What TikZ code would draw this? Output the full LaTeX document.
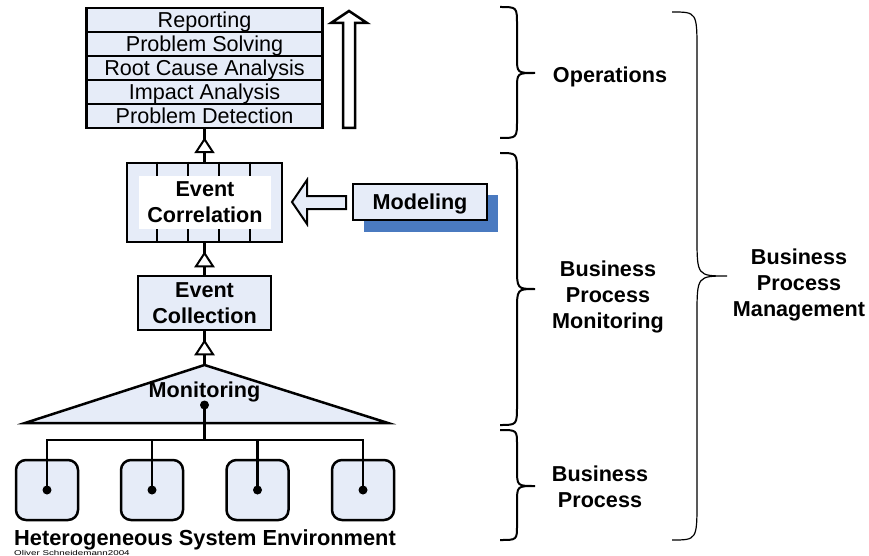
\documentclass[tikz,border=0pt]{standalone}
\usepackage{fontspec}
\setmainfont{Liberation Sans}
\usetikzlibrary{calc}
\definecolor{lblue}{RGB}{230,236,248}
\definecolor{shadowblue}{RGB}{74,122,192}
\newcommand{\curlybrace}[9]{\draw[#1] (#2,#5) .. controls (#3,#5) .. (#3,#5+#8) -- (#3,#7-#9) .. controls (#3,#7) .. (#4,#7) .. controls (#3,#7) .. (#3,#7+#9) -- (#3,#6-#8) .. controls (#3,#6) .. (#2,#6);}
\newcommand{\opentri}[1]{\draw[opentristyle] ($(#1)+(0,10)$) -- ++(-8.5,13) -- ++(17,0) -- cycle;}
\begin{document}
\begin{tikzpicture}[x=1pt,y=-1pt,
  box/.style={draw, line width=2.5pt, fill=lblue, inner sep=0pt},
  row/.style={box, minimum width=236pt, minimum height=24pt, text height=15.5pt, text depth=0pt, font=\fontsize{21.6}{26}\selectfont},
  lbl/.style={font=\fontsize{21.6}{26}\selectfont\bfseries, align=center, inner sep=0pt},
  conn/.style={line width=2.5pt},
  opentristyle/.style={line width=2pt, fill=white},
  dot/.style={circle, fill=black, inner sep=0pt, minimum size=9pt},
  sysbox/.style={draw, line width=2.5pt, fill=lblue, rounded corners=10pt, minimum width=62pt, minimum height=60pt, inner sep=0pt},
  bthick/.style={line width=2pt},
  bthin/.style={line width=1.2pt}
]
\useasboundingbox (0,0) rectangle (869,556);

% operations stack
\node[row] (r1) at (204.5,20) {Reporting};
\node[row] (r2) at (204.5,44) {Problem Solving};
\node[row] (r3) at (204.5,68) {Root Cause Analysis};
\node[row] (r4) at (204.5,92) {Impact Analysis};
\node[row] (r5) at (204.5,116) {Problem Detection};

% hollow up arrow
\draw[line width=2.5pt, fill=white] (343,128) -- (343,23) -- (331,23) -- (349,11) -- (367,23) -- (355,23) -- (355,128) -- cycle;

% event correlation
\node[box, minimum width=155pt, minimum height=79pt] (ecor) at (204.5,202.5) {};
\foreach \i in {1,...,4}
  \draw[line width=2.5pt] ([xshift=\i*31pt]ecor.north west) -- ([xshift=\i*31pt]ecor.south west);
\node[lbl, fill=white, minimum width=132pt, minimum height=53pt] (ecortext) at (205,202.5) {Event\\Correlation};

% modeling
\node[box, draw=none, fill=shadowblue, minimum width=134pt, minimum height=37pt] (modsh) at (431,213.5) {};
\node[box, lbl, minimum width=134pt, minimum height=36pt, text height=15.5pt, text depth=0pt] (mod) at (420,202) {Modeling};
\draw[line width=2pt, fill=lblue] (346,196) -- (307,196) -- (307,180) -- (292,202) -- (307,224) -- (307,209) -- (346,209) -- cycle;

% event collection
\node[box, lbl, minimum width=133pt, minimum height=54pt] (ecol) at (204.5,303) {Event\\Collection};

% monitoring
\coordinate (mtop) at (204.5,365);
\draw[line width=2.5pt, fill=lblue] (mtop) -- (388,423) -- (25,423) -- cycle;
\node[lbl, anchor=base] (mon) at (204.5,397) {Monitoring};
\node[dot] (mdot) at (204.5,405) {};

% connectors with open triangles
\draw[conn] (ecor.north) -- (r5.south);
\opentri{r5.south}
\draw[conn] (ecol.north) -- (ecor.south);
\opentri{ecor.south}
\draw[conn] (mtop) -- (ecol.south);
\opentri{ecol.south}

% system environment
\node[sysbox] (b1) at (47,490) {};
\node[sysbox] (b2) at (152,490) {};
\node[sysbox] (b3) at (257.5,490) {};
\node[sysbox] (b4) at (363,490) {};
\coordinate (bus) at (204.5,440);
\draw[conn] (mdot.center) -- (mdot.center |- bus);
\draw[conn] (b1.center) -- (b1.center |- bus) -- (b4.center |- bus) -- (b4.center);
\draw[conn] (b2.center) -- (b2.center |- bus);
\draw[conn] (b3.center) -- (b3.center |- bus);
\node[dot] (d1) at (b1.center) {};
\node[dot] (d2) at (b2.center) {};
\node[dot] (d3) at (b3.center) {};
\node[dot] (d4) at (b4.center) {};

\node[lbl, anchor=base, font=\fontsize{21.8}{26}\selectfont\bfseries] (hse) at (205,545) {Heterogeneous System Environment};
\node[anchor=base west, inner sep=0pt, font=\fontsize{7}{8}\selectfont] (copy) at (14,555) {\scalebox{1.4}[1]{Oliver Schneidemann2004}};

% braces
\curlybrace{bthick}{500}{517}{535}{7}{138}{73}{18}{16}
\curlybrace{bthick}{500}{517}{535}{153}{425}{289}{20}{22}
\curlybrace{bthick}{500}{517}{535}{430}{540}{486}{15}{17}
\curlybrace{bthin}{672}{697}{727}{12}{540}{276}{40}{40}

\node[lbl, anchor=base] (ops) at (610,83) {Operations};
\node[lbl, anchor=base] (bpmon) at (608,328) {Business\\Process\\Monitoring};
\node[lbl, anchor=base] (bp) at (600,507) {Business\\Process};
\node[lbl, anchor=base] (bpm) at (799,316) {Business\\Process\\Management};
\end{tikzpicture}
\end{document}
